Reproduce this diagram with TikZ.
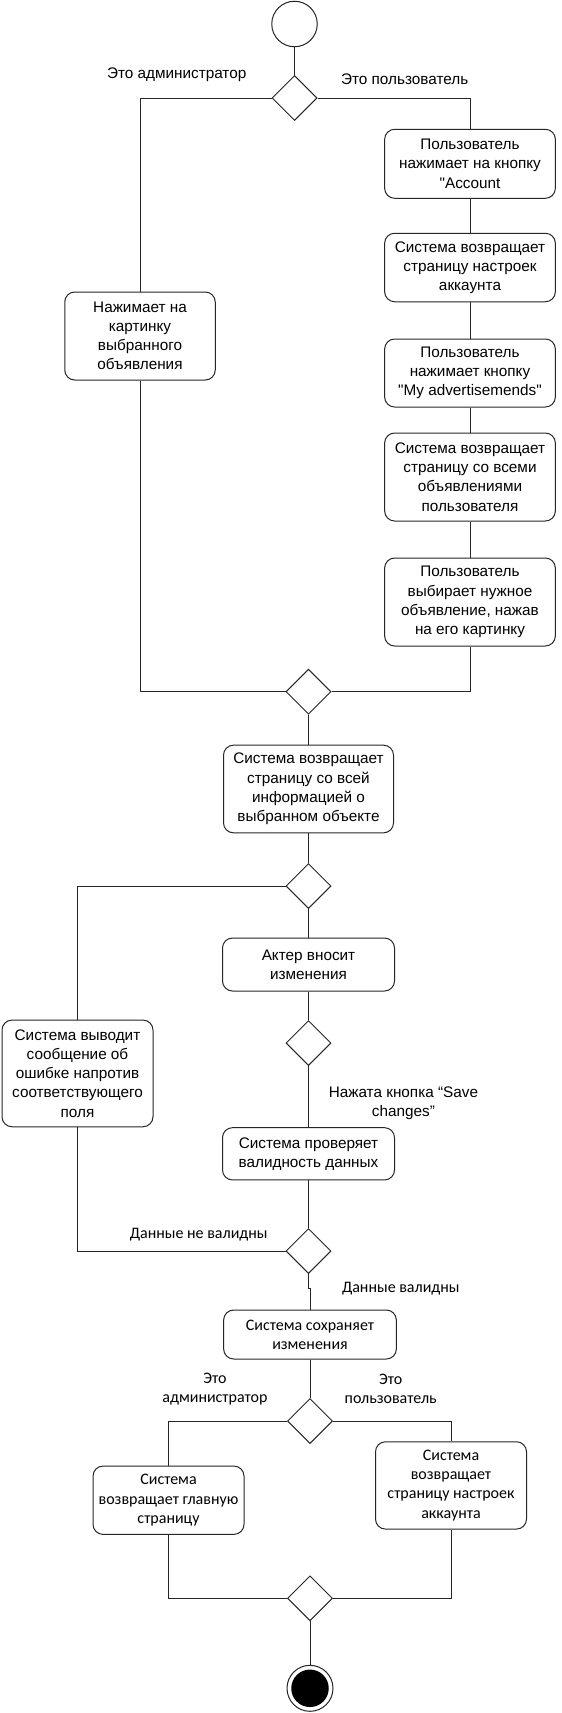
\documentclass[tikz,border=0pt]{standalone}
\usepackage{fontspec}
\setmainfont{Liberation Sans}[Ligatures=TeXOff]
\newfontfamily\calib{Carlito}[Ligatures=TeXOff]
\usetikzlibrary{shapes.geometric}
\begin{document}
\begin{tikzpicture}[x=1pt,y=-1pt,
  act/.style={draw=black!85, line width=1pt, rounded corners=10pt, align=center, font=\fontsize{15.3}{19.2}\selectfont, inner sep=0pt},
  cact/.style={act, font=\calib\fontsize{16}{19.2}\selectfont},
  dec/.style={draw=black!85, line width=1pt, diamond, minimum width=45pt, minimum height=45pt, inner sep=0pt},
  conn/.style={draw=black!85, line width=1pt},
  lbl/.style={align=center, font=\fontsize{15.3}{19.2}\selectfont, inner sep=0pt},
  clbl/.style={align=center, font=\calib\fontsize{16}{19.2}\selectfont, inner sep=0pt}
]
\useasboundingbox[fill=white] (0,0) rectangle (562,1713);

% start / end
\node[circle, draw=black!85, line width=1pt, minimum size=45.5pt, inner sep=0pt] (start) at (294.5,24) {};
\node[circle, draw=black!85, line width=1pt, minimum size=46pt, inner sep=0pt] (endo) at (310,1688.3) {};
\node[circle, fill=black, minimum size=37.5pt, inner sep=0pt] (endi) at (endo) {};

% decisions
\node[dec] (d1) at (294.5,98) {};
\node[dec] (d2) at (308.5,691.7) {};
\node[dec] (d3) at (308.5,886) {};
\node[dec] (d4) at (308.5,1043) {};
\node[dec] (d5) at (308.5,1251) {};
\node[dec] (d6) at (310,1421) {};
\node[dec] (d7) at (310,1598.3) {};

% activities
\node[act, minimum width=170.7pt, minimum height=69pt] (u1) at (470,163.8) {Пользователь\\нажимает на кнопку\\"Account};
\node[act, minimum width=170.7pt, minimum height=68.5pt] (u2) at (470,267.5) {Система возвращает\\страницу настроек\\аккаунта};
\node[act, minimum width=170.7pt, minimum height=68pt] (u3) at (470,373) {Пользователь\\нажимает кнопку\\"My advertisemends"};
\node[act, minimum width=170.7pt, minimum height=88pt] (u4) at (470,477) {Система возвращает\\страницу со всеми\\объявлениями\\пользователя};
\node[act, minimum width=170.7pt, minimum height=88pt] (u5) at (470,602) {Пользователь\\выбирает нужное\\объявление, нажав\\на его картинку};
\node[act, minimum width=150.5pt, minimum height=88pt] (admin) at (140,336) {Нажимает на\\картинку\\выбранного\\объявления};
\node[act, minimum width=170pt, minimum height=87.7pt] (info) at (308.5,789) {Система возвращает\\страницу со всей\\информацией о\\выбранном объекте};
\node[act, minimum width=172pt, minimum height=53pt] (actor) at (308.5,964.5) {Актер вносит\\изменения};
\node[act, minimum width=151pt, minimum height=106.7pt] (err) at (77.5,1073.4) {Система выводит\\сообщение об\\ошибке напротив\\соответствующего\\поля};
\node[act, minimum width=172pt, minimum height=52.3pt] (check) at (308.5,1153.8) {Система проверяет\\валидность данных};
\node[cact, minimum width=172.7pt, minimum height=49pt] (save) at (310,1334.5) {Система сохраняет\\изменения};
\node[cact, minimum width=151pt, minimum height=68.3pt] (mainp) at (168.5,1500.2) {Система\\возвращает главную\\страницу};
\node[cact, minimum width=151pt, minimum height=87.3pt] (accp) at (451,1485.4) {Система\\возвращает\\страницу настроек\\аккаунта};

% labels
\node[lbl] (l1) at (176.7,75) {Это администратор};
\node[lbl] (l2) at (404.7,79) {Это пользователь};
\node[lbl] (l3) at (403.4,1103) {Нажата кнопка “Save\\changes”};
\node[clbl] (l4) at (198.7,1234.3) {Данные не валидны};
\node[clbl] (l5) at (400.8,1288.7) {Данные валидны};
\node[clbl] (l6) at (215,1389.2) {Это\\администратор};
\node[clbl] (l7) at (390.7,1389.2) {Это\\пользователь};

% connectors
\draw[conn] (start) -- (d1);
\draw[conn] (d1.west) -| (admin.north);
\draw[conn] (d1.east) -| (u1.north);
\draw[conn] (u1) -- (u2);
\draw[conn] (u2) -- (u3);
\draw[conn] (u3) -- (u4);
\draw[conn] (u4) -- (u5);
\draw[conn] (admin.south) |- (d2.west);
\draw[conn] (u5.south) |- (d2.east);
\draw[conn] (d2) -- (info);
\draw[conn] (info) -- (d3);
\draw[conn] (d3.west) -| (err.north);
\draw[conn] (d3) -- (actor);
\draw[conn] (actor) -- (d4);
\draw[conn] (d4) -- (check);
\draw[conn] (check) -- (d5);
\draw[conn] (err.south) |- (d5.west);
\draw[conn] (d5.south) -- ++(0,14) -| (save.north);
\draw[conn] (save) -- (d6);
\draw[conn] (d6.west) -| (mainp.north);
\draw[conn] (d6.east) -| (accp.north);
\draw[conn] (mainp.south) |- (d7.west);
\draw[conn] (accp.south) |- (d7.east);
\draw[conn] (d7) -- (endo);
\end{tikzpicture}
\end{document}
